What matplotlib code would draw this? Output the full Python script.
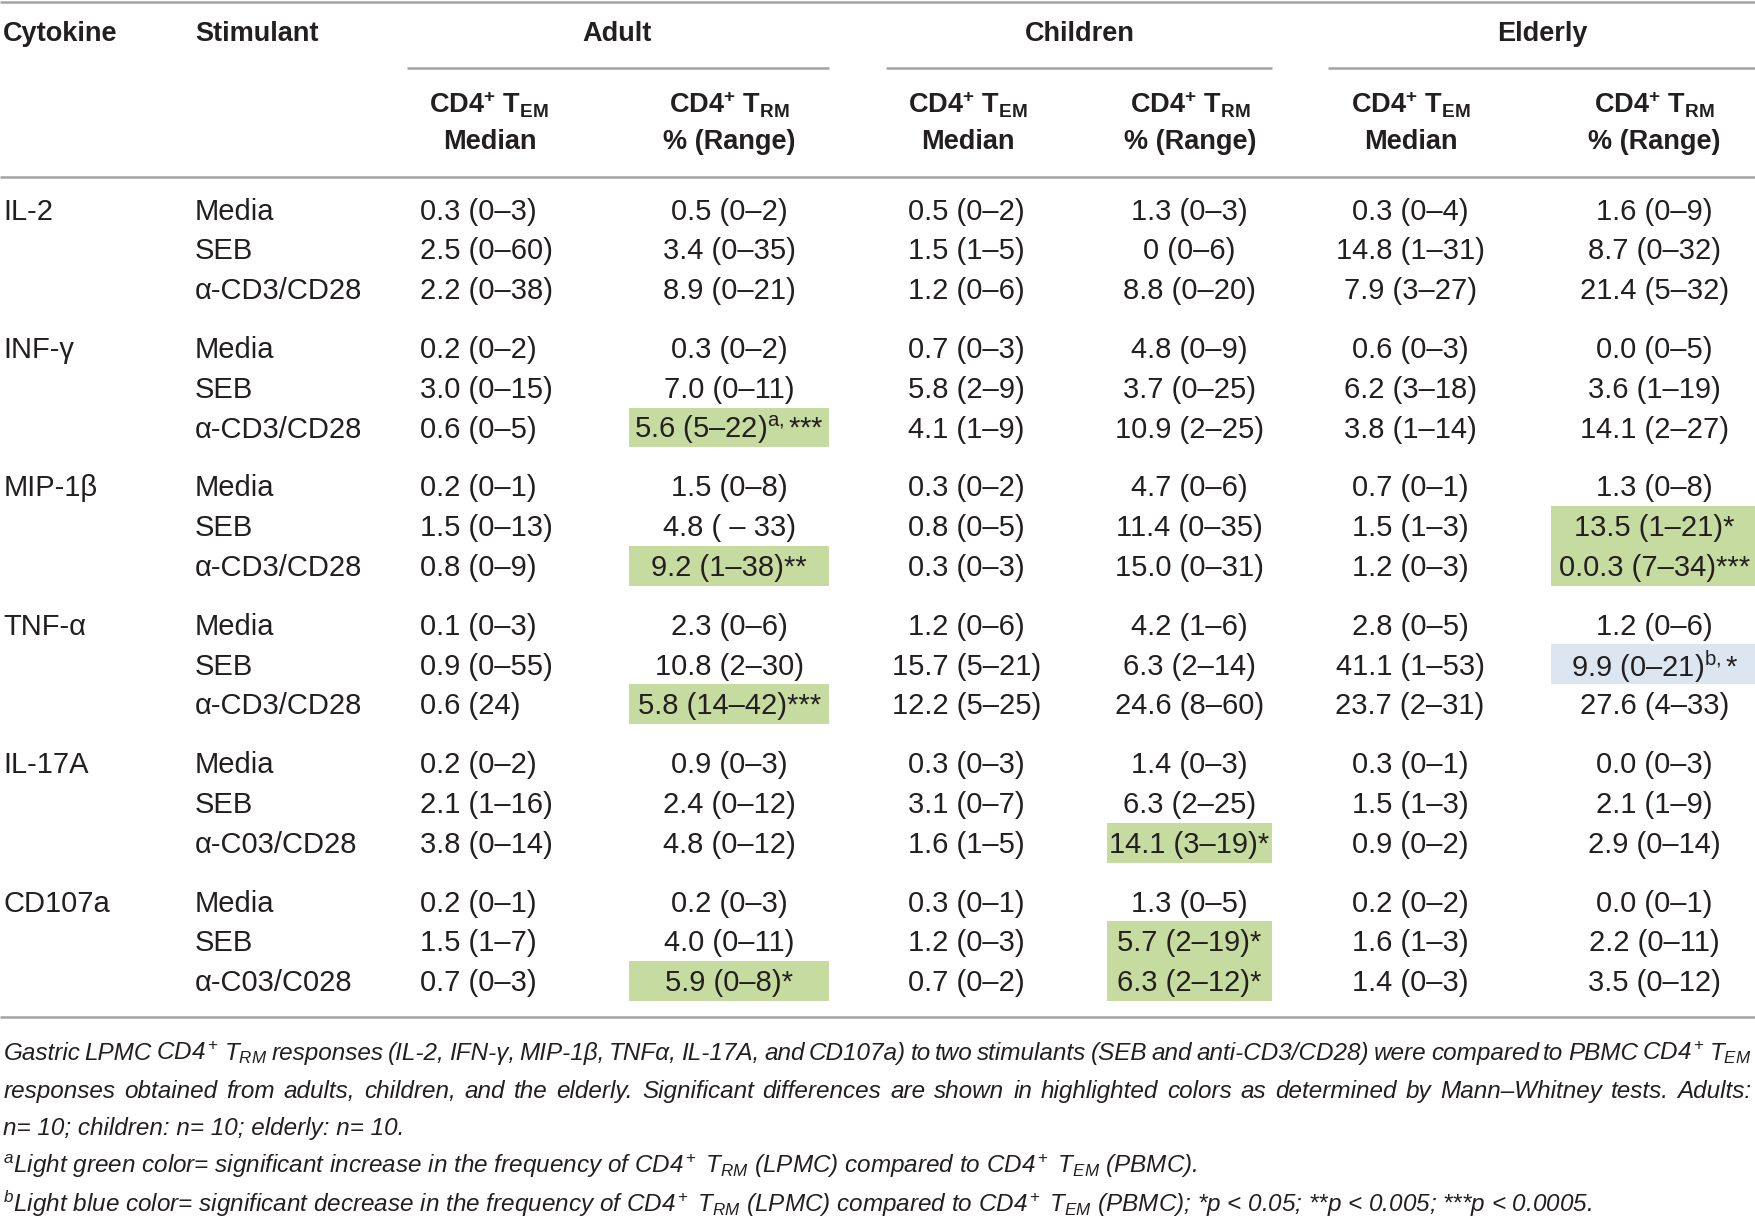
import matplotlib
matplotlib.use('Agg')
import matplotlib.pyplot as plt
import matplotlib.patches as mpatches

# ---- table content ----
groups = ["Adult", "Children", "Elderly"]
cytokines = ["IL-2", "INF-γ", "MIP-1β", "TNF-α", "IL-17A", "CD107a"]
stimulants = [
    ["Media", "SEB", "α-CD3/CD28"],
    ["Media", "SEB", "α-CD3/CD28"],
    ["Media", "SEB", "α-CD3/CD28"],
    ["Media", "SEB", "α-CD3/CD28"],
    ["Media", "SEB", "α-C03/CD28"],
    ["Media", "SEB", "α-C03/C028"],
]
adult_tem = ["0.3 (0–3)", "2.5 (0–60)", "2.2 (0–38)",
             "0.2 (0–2)", "3.0 (0–15)", "0.6 (0–5)",
             "0.2 (0–1)", "1.5 (0–13)", "0.8 (0–9)",
             "0.1 (0–3)", "0.9 (0–55)", "0.6 (24)",
             "0.2 (0–2)", "2.1 (1–16)", "3.8 (0–14)",
             "0.2 (0–1)", "1.5 (1–7)", "0.7 (0–3)"]
adult_trm = ["0.5 (0–2)", "3.4 (0–35)", "8.9 (0–21)",
             "0.3 (0–2)", "7.0 (0–11)", "5.6 (5–22)$^{\\rm a,}$***",
             "1.5 (0–8)", "4.8 ( – 33)", "9.2 (1–38)**",
             "2.3 (0–6)", "10.8 (2–30)", "5.8 (14–42)***",
             "0.9 (0–3)", "2.4 (0–12)", "4.8 (0–12)",
             "0.2 (0–3)", "4.0 (0–11)", "5.9 (0–8)*"]
children_tem = ["0.5 (0–2)", "1.5 (1–5)", "1.2 (0–6)",
                "0.7 (0–3)", "5.8 (2–9)", "4.1 (1–9)",
                "0.3 (0–2)", "0.8 (0–5)", "0.3 (0–3)",
                "1.2 (0–6)", "15.7 (5–21)", "12.2 (5–25)",
                "0.3 (0–3)", "3.1 (0–7)", "1.6 (1–5)",
                "0.3 (0–1)", "1.2 (0–3)", "0.7 (0–2)"]
children_trm = ["1.3 (0–3)", "0 (0–6)", "8.8 (0–20)",
                "4.8 (0–9)", "3.7 (0–25)", "10.9 (2–25)",
                "4.7 (0–6)", "11.4 (0–35)", "15.0 (0–31)",
                "4.2 (1–6)", "6.3 (2–14)", "24.6 (8–60)",
                "1.4 (0–3)", "6.3 (2–25)", "14.1 (3–19)*",
                "1.3 (0–5)", "5.7 (2–19)*", "6.3 (2–12)*"]
elderly_tem = ["0.3 (0–4)", "14.8 (1–31)", "7.9 (3–27)",
               "0.6 (0–3)", "6.2 (3–18)", "3.8 (1–14)",
               "0.7 (0–1)", "1.5 (1–3)", "1.2 (0–3)",
               "2.8 (0–5)", "41.1 (1–53)", "23.7 (2–31)",
               "0.3 (0–1)", "1.5 (1–3)", "0.9 (0–2)",
               "0.2 (0–2)", "1.6 (1–3)", "1.4 (0–3)"]
elderly_trm = ["1.6 (0–9)", "8.7 (0–32)", "21.4 (5–32)",
               "0.0 (0–5)", "3.6 (1–19)", "14.1 (2–27)",
               "1.3 (0–8)", "13.5 (1–21)*", "0.0.3 (7–34)***",
               "1.2 (0–6)", "9.9 (0–21)$^{\\rm b,}$*", "27.6 (4–33)",
               "0.0 (0–3)", "2.1 (1–9)", "2.9 (0–14)",
               "0.0 (0–1)", "2.2 (0–11)", "3.5 (0–12)"]

# highlighted cells: (column index, row index, kind)
highlights = [(1, 5, 'up'), (1, 8, 'up'), (1, 11, 'up'), (1, 17, 'up'),
              (3, 14, 'up'), (3, 16, 'up'), (3, 17, 'up'),
              (5, 7, 'up'), (5, 8, 'up'), (5, 10, 'down')]

caption = [
    "Gastric LPMC CD4$^+$ $T_{RM}$ responses (IL-2, IFN-γ, MIP-1β, TNFα, IL-17A, and CD107a) to two stimulants "
    "(SEB and anti-CD3/CD28) were compared to PBMC CD4$^+$ $T_{EM}$",
    "responses obtained from adults, children, and the elderly. Significant differences are shown in highlighted "
    "colors as determined by Mann–Whitney tests. Adults:",
    "n= 10; children: n= 10; elderly: n= 10.",
    "$^{a}$Light green color= significant increase in the frequency of CD4$^+$ $T_{RM}$ (LPMC) compared to "
    "CD4$^+$ $T_{EM}$ (PBMC).",
    "$^{b}$Light blue color= significant decrease in the frequency of CD4$^+$ $T_{RM}$ (LPMC) compared to "
    "CD4$^+$ $T_{EM}$ (PBMC); *p < 0.05; **p < 0.005; ***p < 0.0005.",
]
justified = [True, True, False, False, False]

# ---- fonts ----
fam = 'Liberation Sans'
plt.rcParams['font.family'] = [fam, 'DejaVu Sans']
plt.rcParams['mathtext.fontset'] = 'custom'
plt.rcParams['mathtext.rm'] = fam
plt.rcParams['mathtext.it'] = fam + ':italic'
plt.rcParams['mathtext.bf'] = fam + ':bold'

ink = '#231f20'
green = '#c6dba0'
blue = '#dce6f0'
rule = '#a3a3a3'
fs = 21
hfs = 19.5
cfs = 17.5

W, H = 1755, 1217
sc = W / 1567.0
fig = plt.figure(figsize=(W / 100, H / 100), dpi=100)
ax = fig.add_axes([0, 0, 1, 1])
ax.set_xlim(0, 1567)
ax.set_ylim(1087, 0)
ax.axis('off')

# column layout
col_x = [375, 651, 863, 1062, 1259, 1477]
col_ha = ['left', 'center', 'center', 'center', 'center', 'center']
head_x = [437, 651, 864, 1063, 1260, 1477]
group_x = [551, 964, 1377]
group_line = [(363, 740), (791, 1136), (1186, 1567)]
box_x = {1: (562, 740), 3: (988, 1136), 5: (1385, 1567)}
columns = [adult_tem, adult_trm, children_tem, children_trm, elderly_tem, elderly_trm]

def row_y(i):
    return 187 + (i // 3) * 123.6 + (i % 3) * 35.6

# rules
for y in [1.5, 158, 908]:
    ax.plot([0, 1567], [y, y], color=rule, lw=1.8, solid_capstyle='butt')
for a, b in group_line:
    ax.plot([a, b], [61, 61], color=rule, lw=1.8, solid_capstyle='butt')

# header
ax.text(3, 30, "Cytokine", fontsize=hfs, fontweight='bold', color=ink, va='center')
ax.text(174, 30, "Stimulant", fontsize=hfs, fontweight='bold', color=ink, va='center')
for g, x in zip(groups, group_x):
    ax.text(x, 30, g, fontsize=hfs, fontweight='bold', color=ink, va='center', ha='center')
for j, x in enumerate(head_x):
    sub = "EM" if j % 2 == 0 else "RM"
    ax.text(x, 94, "CD4$^{\\mathbf{+}}$ T$_{\\mathbf{%s}}$" % sub, fontsize=hfs, fontweight='bold',
            color=ink, va='center', ha='center')
    ax.text(x, 127, "Median" if j % 2 == 0 else "% (Range)", fontsize=hfs, fontweight='bold',
            color=ink, va='center', ha='center')

# highlight boxes
for c, i, kind in highlights:
    x0, x1 = box_x[c]
    y = row_y(i)
    ax.add_patch(mpatches.Rectangle((x0, y - 17.8), x1 - x0, 35.6, lw=0,
                                    facecolor=green if kind == 'up' else blue, zorder=0))

# body
for b, cyt in enumerate(cytokines):
    ax.text(3, row_y(b * 3) + 2, cyt, fontsize=fs, color=ink, va='center')
    for s, stim in enumerate(stimulants[b]):
        ax.text(174, row_y(b * 3 + s) + 2, stim, fontsize=fs, color=ink, va='center')
for j, col in enumerate(columns):
    for i, val in enumerate(col):
        ax.text(col_x[j], row_y(i) + 2, val, fontsize=fs, color=ink, va='center', ha=col_ha[j])

# caption (first two lines justified to full width)
r = fig.canvas.get_renderer()
for k, line in enumerate(caption):
    y = 941 + k * 33.5
    if not justified[k]:
        ax.text(3, y, line, fontsize=cfs, style='italic', color=ink, va='center')
        continue
    words = line.split(' ')
    objs = [ax.text(0, y, w, fontsize=cfs, style='italic', color=ink, va='center') for w in words]
    widths = [o.get_window_extent(r).width / sc for o in objs]
    gap = (1564 - 3 - sum(widths)) / (len(words) - 1)
    x = 3
    for o, wd in zip(objs, widths):
        o.set_x(x)
        x += wd + gap

fig.savefig('out.png', dpi=100)
